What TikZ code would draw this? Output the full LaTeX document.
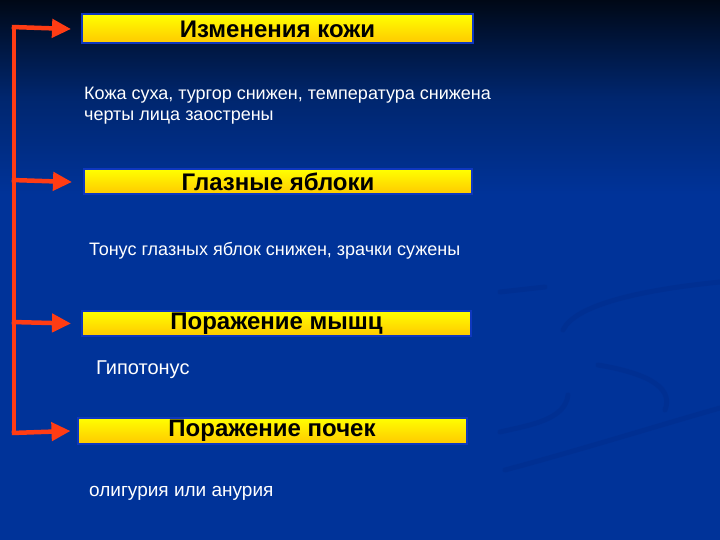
\documentclass[tikz,border=0pt]{standalone}
\usepackage{fontspec}
\setmainfont{Liberation Sans}
\usetikzlibrary{arrows.meta}
\definecolor{bgblue}{RGB}{0,51,153}
\definecolor{bgmid}{RGB}{0,38,110}
\definecolor{bgdark}{RGB}{0,22,62}
\definecolor{bgtop}{RGB}{0,8,22}
\definecolor{swoosh}{RGB}{0,44,138}
\definecolor{boxedge}{RGB}{15,55,190}
\definecolor{yellowtop}{RGB}{255,255,0}
\definecolor{yellowbot}{RGB}{255,200,0}
\definecolor{arrowred}{RGB}{255,60,20}
\pgfdeclareverticalshading{bgshade}{100bp}{color(0bp)=(bgblue); color(25bp)=(bgblue); color(57bp)=(bgblue); color(66bp)=(bgmid); color(71bp)=(bgdark); color(75bp)=(bgtop); color(100bp)=(bgtop)}
\begin{document}
\begin{tikzpicture}[x=1pt,y=-1pt,
  hdr/.style={draw=boxedge, line width=2pt, top color=yellowtop, bottom color=yellowbot,
    inner sep=0pt, text=black, font=\bfseries\fontsize{24}{28}\selectfont},
  body/.style={anchor=base west, inner sep=0pt, text=white, font=\fontsize{18}{20.7}\selectfont, align=left},
  link/.style={draw=arrowred, line width=4.5pt},
  arr/.style={link, -{Triangle[length=19pt,width=18pt]}}
]
\useasboundingbox (0,0) rectangle (720,540);
\shade[shading=bgshade] (0,0) rectangle (720,540);
% faint decorative swoosh
\begin{scope}[draw=swoosh, line width=5pt, line cap=round, opacity=0.45]
  \draw (500,292) -- (545,287);
  \draw (563,330) .. controls (575,305) and (640,290) .. (720,282);
  \draw (500,432) .. controls (530,425) and (565,420) .. (568,395);
  \draw (598,365) .. controls (640,372) and (675,385) .. (665,410);
  \draw (505,470) .. controls (580,450) and (660,425) .. (720,408);
\end{scope}
% header boxes
\node[hdr, minimum width=391pt, minimum height=29pt] (h1) at (277.5,29) {Изменения кожи};
\node[hdr, minimum width=388pt, minimum height=25pt] (h2) at (278,182) {Глазные яблоки};
\node[hdr, minimum width=389pt, minimum height=25pt] (h3) at (276.5,323.5) {Поражение мышц};
\node[hdr, minimum width=389pt, minimum height=26pt] (h4) at (272,431) {Поражение почек};
% body texts
\node[body] (t1) at (84,120.7) {Кожа суха, тургор снижен, температура снижена\\черты лица заострены};
\node[body] (t2) at (89,255) {Тонус глазных яблок снижен, зрачки сужены};
\node[body, font=\fontsize{20}{22}\selectfont] (t3) at (96,374) {Гипотонус};
\node[body, font=\fontsize{19}{22}\selectfont] (t4) at (89,496) {олигурия или анурия};
% connectors
\coordinate (c1) at (14,27);
\coordinate (c2) at (14,180);
\coordinate (c3) at (14,322);
\coordinate (c4) at (14,433);
\draw[link, line cap=butt] ([yshift=2.25pt]c1) -- ([yshift=-2.25pt]c4);
\draw[arr] ([xshift=-2.25pt]c1) -- ([xshift=-10pt]h1.west);
\draw[arr] ([xshift=-2.25pt]c2) -- ([xshift=-11pt]h2.west);
\draw[arr] ([xshift=-2.25pt]c3) -- ([xshift=-10pt]h3.west);
\draw[arr] ([xshift=-2.25pt]c4) -- ([xshift=-6pt]h4.west);
\end{tikzpicture}
\end{document}
